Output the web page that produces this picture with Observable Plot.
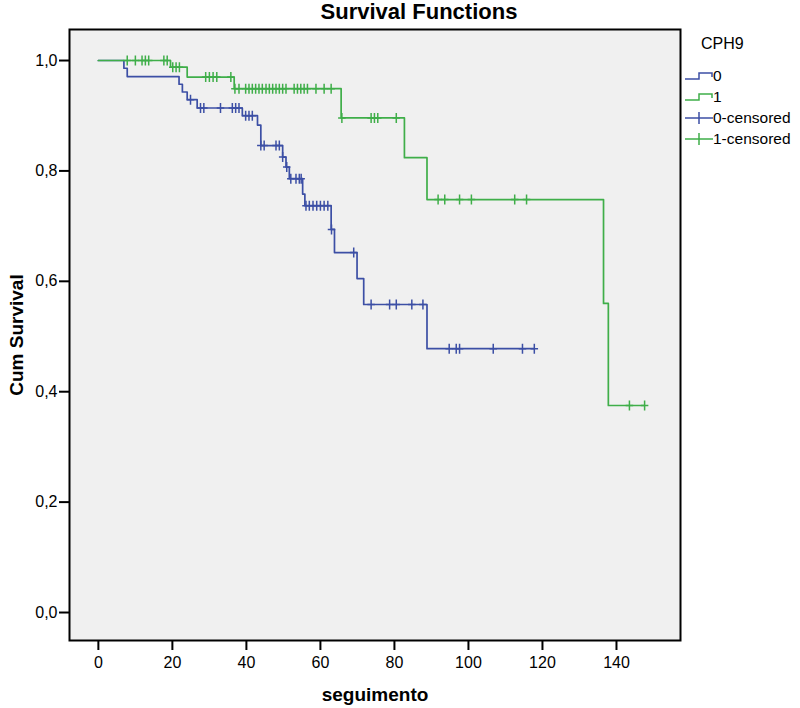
<!DOCTYPE html>
<html>
<head>
<meta charset="utf-8">
<script src="https://cdn.jsdelivr.net/npm/d3@7"></script>
<script src="https://cdn.jsdelivr.net/npm/@observablehq/plot@0.6"></script>
<style>
  body { margin: 0; background: #fff; font-family: "Liberation Sans", Arial, sans-serif; }
  #wrap { position: relative; width: 800px; height: 708px; overflow: hidden; }
  #title { position: absolute; left: 419px; top: 0px; transform: translateX(-50%); white-space: nowrap;
           font-weight: bold; font-size: 22px; line-height: 24px; color: #000; }
  #legend { position: absolute; left: 683px; top: 0; width: 117px; font-size: 15.5px; color: #000; }
  #legend .head { position: absolute; left: 18px; top: 35px; font-size: 16px; line-height: 18px; }
  #legend .row { position: absolute; left: 0; height: 20px; display: flex; align-items: center; line-height: 20px; }
  #legend svg { display: block; }
  #chart svg text { font-family: "Liberation Sans", Arial, sans-serif; }
  #chart g[aria-label="y-axis label"] text, #chart g[aria-label="x-axis label"] text { font-weight: bold; font-size: 19px; }
  #chart g[aria-label="y-axis tick label"] text { font-size: 16px; }
  #chart g[aria-label="x-axis tick label"] text { font-size: 16px; font-family: "Liberation Sans Narrow", "Arial Narrow", "Liberation Sans", Arial, sans-serif; }
</style>
</head>
<body>
<div id="wrap">
  <div id="chart"></div>
  <div id="title">Survival Functions</div>
  <div id="legend"></div>
</div>
<script>
// ---------- data ----------
const groups = ["0", "1"];
const groupColors = ["#3c4fa5", "#3fae49"];
const legendTitle = "CPH9";
const legendLabels = ["0", "1", "0-censored", "1-censored"];

// Group 0 (blue): event times and survival after each event
const blueTimes = [0, 6.9, 7.8, 21.8, 22.7, 24.0, 26.7, 38.9, 43.0, 43.9, 49.8, 50.7, 51.6, 55.2, 55.8, 62.9, 63.8, 69.9, 71.7, 88.8];
const blueSurv  = [1.0, 0.986, 0.971, 0.957, 0.943, 0.929, 0.914, 0.900, 0.883, 0.846, 0.825, 0.807, 0.786, 0.758, 0.737, 0.694, 0.652, 0.605, 0.558, 0.478];
const blueEnd = 117.8;
const blueCensor = [24.9, 27.6, 28.5, 33.0, 36.2, 37.1, 38.0, 39.8, 40.7, 41.6, 43.9, 44.8, 48.0, 48.9, 49.8, 50.9, 52.0, 53.4, 54.3, 54.8,
                    56.1, 57.0, 58.0, 59.0, 60.0, 61.0, 62.0, 63.0, 69.0, 73.7, 78.7, 80.5, 84.7, 87.7, 94.8, 96.7, 97.6, 106.7, 114.6, 117.8];

// Group 1 (green)
const greenTimes = [0, 19.5, 24.0, 36.7, 65.6, 82.7, 88.8, 136.5, 137.8];
const greenSurv  = [1.0, 0.988, 0.970, 0.949, 0.896, 0.824, 0.748, 0.560, 0.375];
const greenEnd = 147.6;
const greenCensor = [7.8, 10.0, 11.8, 12.7, 13.6, 17.7, 18.6, 20.1, 21.0, 21.9, 29.0, 30.0, 31.0, 32.0, 35.8,
                     36.9, 38.0, 39.8, 40.7, 41.6, 42.5, 43.4, 44.3, 45.3, 46.2, 47.1, 48.0, 48.9, 49.8, 50.7,
                     52.9, 53.8, 54.7, 55.6, 56.5, 58.8, 61.0, 62.9, 65.8, 73.7, 74.6, 75.5, 80.5,
                     91.8, 93.6, 97.6, 100.8, 112.5, 115.7, 143.5, 147.6];

const xTicks = [0, 20, 40, 60, 80, 100, 120, 140];
const yTicks = [0, 0.2, 0.4, 0.6, 0.8, 1.0];

// ---------- build tables ----------
function stepRows(times, surv, end, g) {
  const rows = times.map((t, i) => ({t, s: surv[i], g}));
  rows.push({t: end, s: surv[surv.length - 1], g});
  return rows;
}
function levelAt(times, surv, t) {
  let s = surv[0];
  for (let i = 0; i < times.length; i++) if (times[i] <= t) s = surv[i];
  return s;
}
const blueLine = stepRows(blueTimes, blueSurv, blueEnd, groups[0]);
const greenLine = stepRows(greenTimes, greenSurv, greenEnd, groups[1]);
const blueCens = blueCensor.map(t => ({t, s: levelAt(blueTimes, blueSurv, t), g: groups[0]}));
const greenCens = greenCensor.map(t => ({t, s: levelAt(greenTimes, greenSurv, t), g: groups[1]}));

const censorSymbol = {
  draw(ctx, size) {
    const r = Math.sqrt(size / Math.PI);
    ctx.moveTo(0, -r); ctx.lineTo(0, r);
    ctx.moveTo(-r * 0.75, 0); ctx.lineTo(r * 0.75, 0);
  }
};

const comma = d => d.toFixed(1).replace(".", ",");

const chart = Plot.plot({
  width: 800,
  height: 708,
  marginLeft: 69,
  marginRight: 120,
  marginTop: 29,
  marginBottom: 68,
  style: {background: "transparent", fontSize: "15px", color: "#000"},
  x: {domain: [-7.8, 157.3], label: "seguimento", labelArrow: "none"},
  y: {domain: [-0.0507, 1.0562], label: "Cum Survival", labelArrow: "none"},
  marks: [
    Plot.frame({fill: "#f0f0f0"}),
    Plot.axisX({ticks: xTicks, tickSize: 10, strokeWidth: 2, tickPadding: 6, label: "seguimento", labelArrow: "none", labelAnchor: "center", labelOffset: 60}),
    Plot.axisY({ticks: yTicks, tickSize: 10, strokeWidth: 2, tickPadding: 2, tickFormat: comma, label: "Cum Survival", labelArrow: "none", labelAnchor: "center", labelOffset: 60}),
    Plot.line(blueLine, {x: "t", y: "s", curve: "step-after", stroke: groupColors[0], strokeWidth: 1.7}),
    Plot.dot(blueCens, {x: "t", y: "s", symbol: censorSymbol, r: 5, stroke: groupColors[0], strokeWidth: 1.5, fill: "none"}),
    Plot.line(greenLine, {x: "t", y: "s", curve: "step-after", stroke: groupColors[1], strokeWidth: 1.7}),
    Plot.dot(greenCens, {x: "t", y: "s", symbol: censorSymbol, r: 5, stroke: groupColors[1], strokeWidth: 1.5, fill: "none"}),
    Plot.frame({stroke: "#000", strokeWidth: 2})
  ]
});
document.getElementById("chart").appendChild(chart);

// ---------- legend ----------
const legend = document.getElementById("legend");
const head = document.createElement("div");
head.className = "head";
head.textContent = legendTitle;
legend.appendChild(head);
const rowTops = [66, 87, 108, 129];
legendLabels.forEach((lab, i) => {
  const color = groupColors[i % 2];
  const censored = i >= 2;
  const row = document.createElement("div");
  row.className = "row";
  row.style.top = rowTops[i] + "px";
  const icon = censored
    ? `<svg width="30" height="20"><path d="M2,10H30M16,4V16" stroke="${color}" stroke-width="1.5" fill="none"/></svg>`
    : `<svg width="30" height="20"><path d="M2,13H16V7H29V11" stroke="${color}" stroke-width="1.5" fill="none"/></svg>`;
  row.innerHTML = icon + `<span>${lab}</span>`;
  legend.appendChild(row);
});
</script>
</body>
</html>
